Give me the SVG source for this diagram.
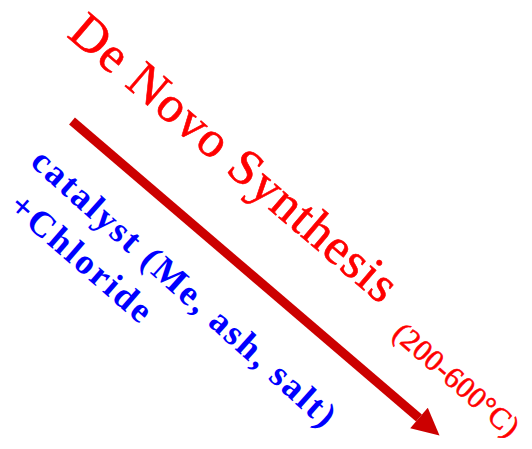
<svg xmlns="http://www.w3.org/2000/svg" width="532" height="449" viewBox="0 0 532 449">
<style>
.red{fill:#ff0000;stroke:#ff0000;stroke-width:0.6;font-family:"Liberation Serif","DejaVu Serif",serif}
.blue{fill:#0000ff;font-family:"Liberation Serif","DejaVu Serif",serif;font-weight:bold}
</style>
<defs>
<marker id="ah" viewBox="0 0 10 10" refX="0" refY="5" markerWidth="3.3" markerHeight="3" markerUnits="strokeWidth" orient="auto">
<path d="M0,0 L10,5 L0,10 z" fill="#cc0000"/>
</marker>
</defs>
<g id="connectors">
<line x1="72" y1="121" x2="419" y2="418" stroke="#cc0000" stroke-width="9" marker-end="url(#ah)"/>
</g>
<g id="title">
<text class="red" font-size="51" transform="translate(66,36) rotate(40.5)" textLength="414" lengthAdjust="spacing">De Novo Synthesis</text>
</g>
<g id="temperature">
<text class="red" font-size="30" stroke-width="0.3" transform="translate(391,336) rotate(41)" textLength="156" lengthAdjust="spacing">(200-600°C)</text>
</g>
<g id="catalyst">
<text class="blue" font-size="36" transform="translate(29,164) rotate(42)" textLength="396" lengthAdjust="spacing">catalyst (Me, ash, salt)</text>
<text class="blue" font-size="36" transform="translate(7,209) rotate(41)" textLength="176" lengthAdjust="spacing">+Chloride</text>
</g>
</svg>
